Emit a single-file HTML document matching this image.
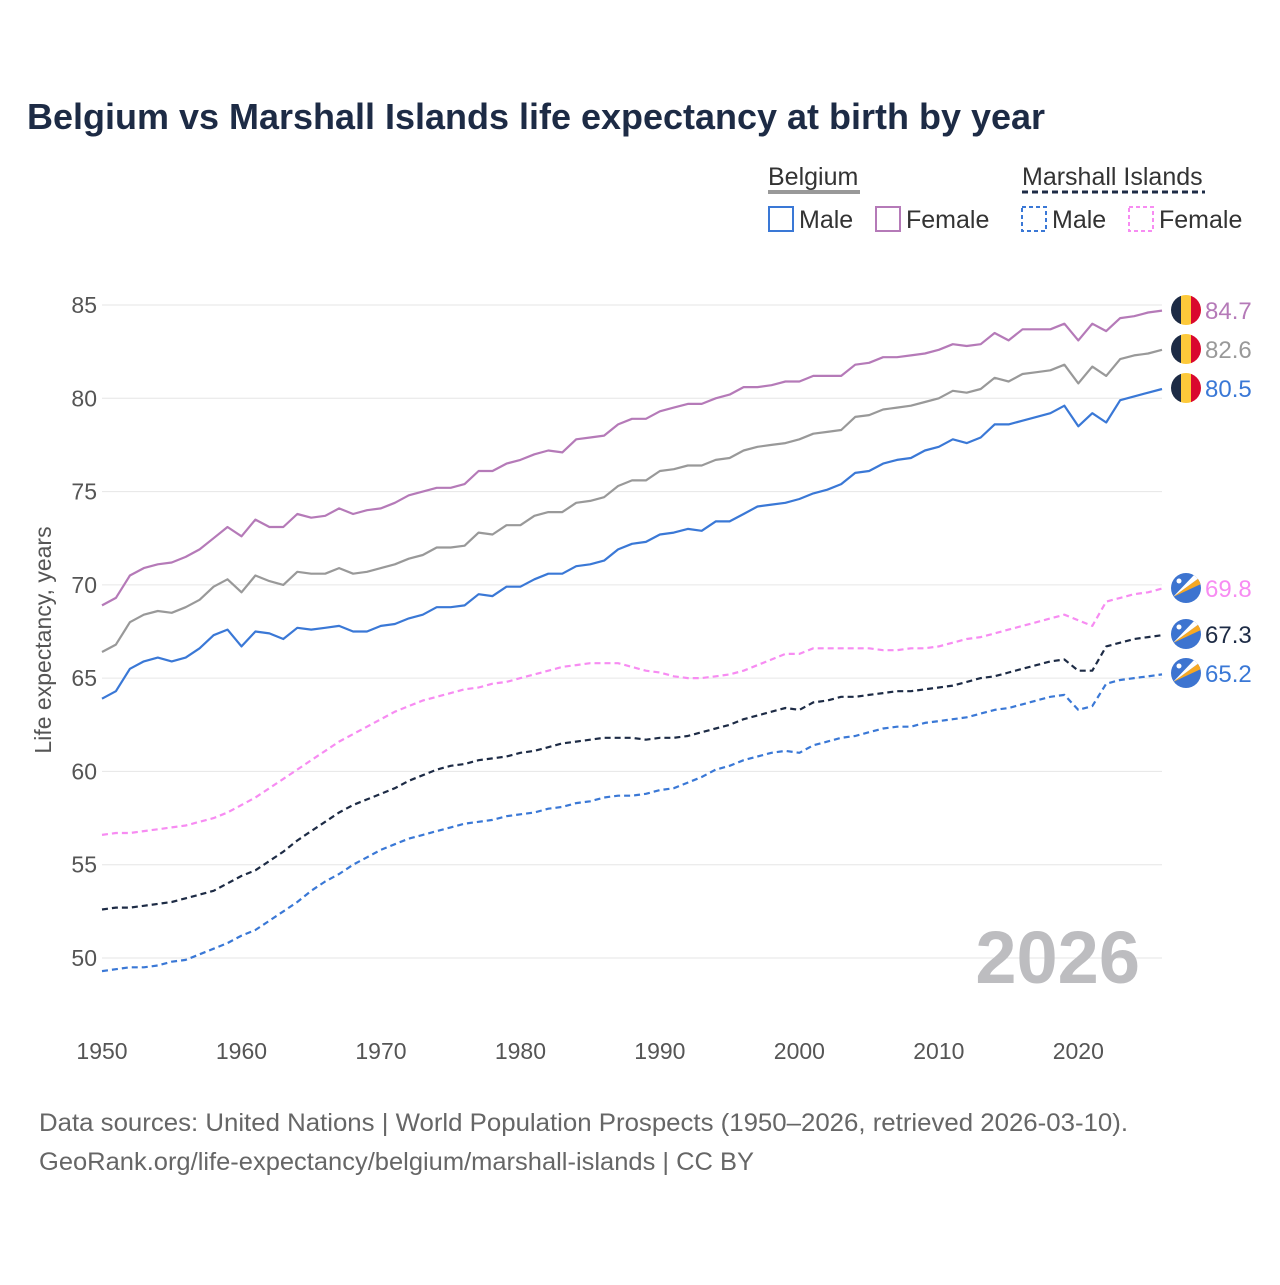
<!DOCTYPE html>
<html><head><meta charset="utf-8"><style>
body{margin:0;background:#fff;width:1280px;height:1280px;overflow:hidden;font-family:"Liberation Sans",sans-serif}
</style></head><body>
<svg id="chart" width="1280" height="1280" xmlns="http://www.w3.org/2000/svg" font-family="Liberation Sans, sans-serif">
<text x="27" y="129" font-size="36" font-weight="bold" fill="#1d2b45" textLength="1018" lengthAdjust="spacingAndGlyphs">Belgium vs Marshall Islands life expectancy at birth by year</text>
<g font-size="25" fill="#333">
<text x="768" y="185">Belgium</text>
<line x1="768" y1="192" x2="860" y2="192" stroke="#999" stroke-width="4"/>
<text x="1022" y="185">Marshall Islands</text>
<line x1="1022" y1="192" x2="1205" y2="192" stroke="#1d2b45" stroke-width="3" stroke-dasharray="6,4"/>
<g><rect x="769" y="207" width="24" height="24" fill="none" stroke="#3a78d6" stroke-width="2"/><text x="799" y="228">Male</text></g>
<g><rect x="876" y="207" width="24" height="24" fill="none" stroke="#b57ab8" stroke-width="2"/><text x="906" y="228">Female</text></g>
<g><rect x="1022" y="207" width="24" height="24" fill="none" stroke="#3a78d6" stroke-width="2" stroke-dasharray="4,3"/><text x="1052" y="228">Male</text></g>
<g><rect x="1129" y="207" width="24" height="24" fill="none" stroke="#f78cf2" stroke-width="2" stroke-dasharray="4,3"/><text x="1159" y="228">Female</text></g>
</g>
<text transform="translate(51,640) rotate(-90)" text-anchor="middle" font-size="23" fill="#555">Life expectancy, years</text>
<g id="grid"></g><g id="series"></g><g id="ends"></g>
<text x="1140" y="983" text-anchor="end" font-size="74" font-weight="bold" fill="#bdbdc0">2026</text>
<text x="39" y="1131" font-size="25" fill="#666" textLength="1089" lengthAdjust="spacingAndGlyphs">Data sources: United Nations | World Population Prospects (1950–2026, retrieved 2026-03-10).</text>
<text x="39" y="1170" font-size="25" fill="#666" textLength="715" lengthAdjust="spacingAndGlyphs">GeoRank.org/life-expectancy/belgium/marshall-islands | CC BY</text>
</svg>
<script>
const years=[];for(let y=1950;y<=2026;y++)years.push(y);
const yTicks=[50,55,60,65,70,75,80,85];
const xTicks=[1950,1960,1970,1980,1990,2000,2010,2020];
const beFemale=[68.9,69.3,70.5,70.9,71.1,71.2,71.5,71.9,72.5,73.1,72.6,73.5,73.1,73.1,73.8,73.6,73.7,74.1,73.8,74.0,74.1,74.4,74.8,75.0,75.2,75.2,75.4,76.1,76.1,76.5,76.7,77.0,77.2,77.1,77.8,77.9,78.0,78.6,78.9,78.9,79.3,79.5,79.7,79.7,80.0,80.2,80.6,80.6,80.7,80.9,80.9,81.2,81.2,81.2,81.8,81.9,82.2,82.2,82.3,82.4,82.6,82.9,82.8,82.9,83.5,83.1,83.7,83.7,83.7,84.0,83.1,84.0,83.6,84.3,84.4,84.6,84.7];
const beTotal=[66.4,66.8,68.0,68.4,68.6,68.5,68.8,69.2,69.9,70.3,69.6,70.5,70.2,70.0,70.7,70.6,70.6,70.9,70.6,70.7,70.9,71.1,71.4,71.6,72.0,72.0,72.1,72.8,72.7,73.2,73.2,73.7,73.9,73.9,74.4,74.5,74.7,75.3,75.6,75.6,76.1,76.2,76.4,76.4,76.7,76.8,77.2,77.4,77.5,77.6,77.8,78.1,78.2,78.3,79.0,79.1,79.4,79.5,79.6,79.8,80.0,80.4,80.3,80.5,81.1,80.9,81.3,81.4,81.5,81.8,80.8,81.7,81.2,82.1,82.3,82.4,82.6];
const beMale=[63.9,64.3,65.5,65.9,66.1,65.9,66.1,66.6,67.3,67.6,66.7,67.5,67.4,67.1,67.7,67.6,67.7,67.8,67.5,67.5,67.8,67.9,68.2,68.4,68.8,68.8,68.9,69.5,69.4,69.9,69.9,70.3,70.6,70.6,71.0,71.1,71.3,71.9,72.2,72.3,72.7,72.8,73.0,72.9,73.4,73.4,73.8,74.2,74.3,74.4,74.6,74.9,75.1,75.4,76.0,76.1,76.5,76.7,76.8,77.2,77.4,77.8,77.6,77.9,78.6,78.6,78.8,79.0,79.2,79.6,78.5,79.2,78.7,79.9,80.1,80.3,80.5];
const mhFemale=[56.6,56.7,56.7,56.8,56.9,57.0,57.1,57.3,57.5,57.8,58.2,58.6,59.1,59.6,60.1,60.6,61.1,61.6,62.0,62.4,62.8,63.2,63.5,63.8,64.0,64.2,64.4,64.5,64.7,64.8,65.0,65.2,65.4,65.6,65.7,65.8,65.8,65.8,65.6,65.4,65.3,65.1,65.0,65.0,65.1,65.2,65.4,65.7,66.0,66.3,66.3,66.6,66.6,66.6,66.6,66.6,66.5,66.5,66.6,66.6,66.7,66.9,67.1,67.2,67.4,67.6,67.8,68.0,68.2,68.4,68.1,67.8,69.1,69.3,69.5,69.6,69.8];
const mhTotal=[52.6,52.7,52.7,52.8,52.9,53.0,53.2,53.4,53.6,54.0,54.4,54.7,55.2,55.7,56.3,56.8,57.3,57.8,58.2,58.5,58.8,59.1,59.5,59.8,60.1,60.3,60.4,60.6,60.7,60.8,61.0,61.1,61.3,61.5,61.6,61.7,61.8,61.8,61.8,61.7,61.8,61.8,61.9,62.1,62.3,62.5,62.8,63.0,63.2,63.4,63.3,63.7,63.8,64.0,64.0,64.1,64.2,64.3,64.3,64.4,64.5,64.6,64.8,65.0,65.1,65.3,65.5,65.7,65.9,66.0,65.4,65.4,66.7,66.9,67.1,67.2,67.3];
const mhMale=[49.3,49.4,49.5,49.5,49.6,49.8,49.9,50.2,50.5,50.8,51.2,51.5,52.0,52.5,53.0,53.6,54.1,54.5,55.0,55.4,55.8,56.1,56.4,56.6,56.8,57.0,57.2,57.3,57.4,57.6,57.7,57.8,58.0,58.1,58.3,58.4,58.6,58.7,58.7,58.8,59.0,59.1,59.4,59.7,60.1,60.3,60.6,60.8,61.0,61.1,61.0,61.4,61.6,61.8,61.9,62.1,62.3,62.4,62.4,62.6,62.7,62.8,62.9,63.1,63.3,63.4,63.6,63.8,64.0,64.1,63.3,63.5,64.7,64.9,65.0,65.1,65.2];

const NS="http://www.w3.org/2000/svg";
const xS=y=>102+(y-1950)*(1162-102)/76;
const yS=v=>305+(85-v)*(958-305)/35;
function mk(t,a,p){const e=document.createElementNS(NS,t);for(const k in a)e.setAttribute(k,a[k]);p.appendChild(e);return e;}
const grid=document.getElementById('grid');
yTicks.forEach(v=>{
  const l=mk('line',{x1:102,x2:1162,y1:yS(v),y2:yS(v),stroke:'#e6e6e6','stroke-width':1},grid);
  
  
  const t=mk('text',{x:97,y:yS(v)+8,'text-anchor':'end','font-size':23,fill:'#555'},grid);t.textContent=v;
  
  
});
xTicks.forEach(v=>{
  const t=mk('text',{x:xS(v),y:1059,'text-anchor':'middle','font-size':23,fill:'#555'},grid);t.textContent=v;
  
  
});
const ser=[
 ['belgium-female',beFemale,'#b57ab8',null],
 ['belgium-total',beTotal,'#999999',null],
 ['belgium-male',beMale,'#3a78d6',null],
 ['marshall-female',mhFemale,'#f78cf2','6,4'],
 ['marshall-total',mhTotal,'#1d2b45','6,4'],
 ['marshall-male',mhMale,'#3a78d6','6,4']];
const sg=document.getElementById('series'),eg=document.getElementById('ends');
const labelY={'belgium-female':310,'belgium-total':349,'belgium-male':388,'marshall-female':588,'marshall-total':634,'marshall-male':673};
ser.forEach(([n,d,c,da])=>{
  const pts=d.map((v,i)=>xS(years[i]).toFixed(1)+','+yS(v).toFixed(1)).join(' ');
  const a={points:pts,fill:'none',stroke:c,'stroke-width':2.2,'stroke-linejoin':'round'};if(da)a['stroke-dasharray']=da;
  const pl=mk('polyline',a,sg);
  
  
  const cy=labelY[n],cx=1186;
  const g=mk('g',{},eg);
  
  
  const cid='c'+n;
  const cp=mk('clipPath',{id:cid},g);mk('circle',{cx,cy,r:15},cp);
  if(n.startsWith('belgium')){
    mk('rect',{x:cx-15,y:cy-15,width:10,height:30,fill:'#1d2b45','clip-path':`url(#${cid})`},g);
    mk('rect',{x:cx-5,y:cy-15,width:10,height:30,fill:'#fdc93a','clip-path':`url(#${cid})`},g);
    mk('rect',{x:cx+5,y:cy-15,width:10,height:30,fill:'#d9082e','clip-path':`url(#${cid})`},g);
  } else {
    mk('circle',{cx,cy,r:15,fill:'#3d74d0'},g);
    mk('polygon',{points:`${cx-13},${cy+9} ${cx+13},${cy-10} ${cx+15},${cy-4}`,fill:'#f7a823','clip-path':`url(#${cid})`},g);
    mk('polygon',{points:`${cx-13},${cy+9} ${cx+9},${cy-14} ${cx+13},${cy-10}`,fill:'#fff','clip-path':`url(#${cid})`},g);
    mk('circle',{cx:cx-7,cy:cy-7,r:2.5,fill:'#fff'},g);
  }
  const t=mk('text',{x:1205,y:cy+9,'font-size':24,fill:c},g);t.textContent=d[d.length-1].toFixed(1);
});
</script>
</body></html>
